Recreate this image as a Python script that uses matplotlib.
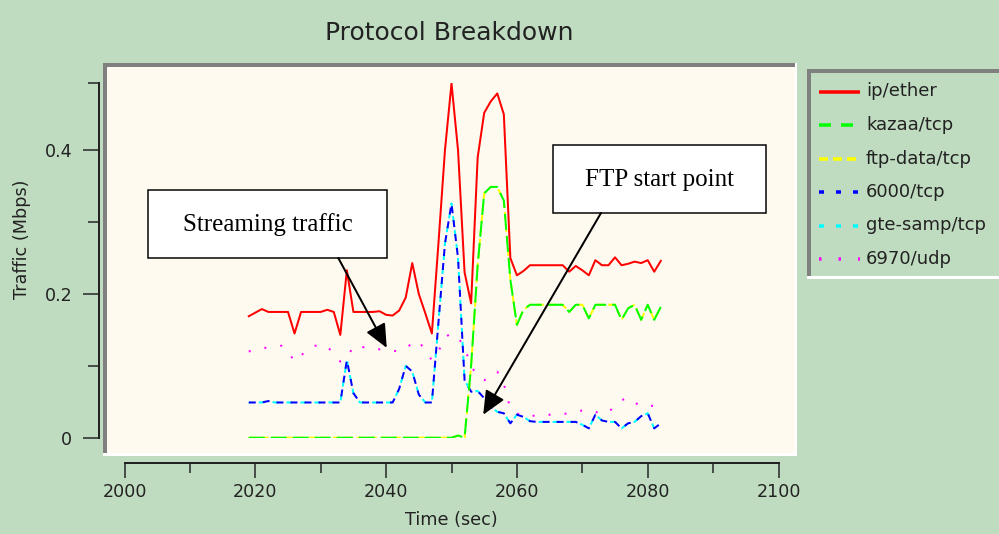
import matplotlib
matplotlib.use("Agg")
import matplotlib.pyplot as plt
from matplotlib.patches import Rectangle
from matplotlib.lines import Line2D

plt.rcParams['lines.scale_dashes'] = False
plt.rcParams['font.family'] = ['DejaVu Sans']

# ---- data (time in sec, traffic in Mbps) ----
time_sec = [2019, 2020, 2021, 2022, 2023, 2024, 2025, 2026,
            2027, 2028, 2029, 2030, 2031, 2032, 2033, 2034,
            2035, 2036, 2037, 2038, 2039, 2040, 2041, 2042,
            2043, 2044, 2045, 2046, 2047, 2048, 2049, 2050,
            2051, 2052, 2053, 2054, 2055, 2056, 2057, 2058,
            2059, 2060, 2061, 2062, 2063, 2064, 2065, 2066,
            2067, 2068, 2069, 2070, 2071, 2072, 2073, 2074,
            2075, 2076, 2077, 2078, 2079, 2080, 2081, 2082]

ip_ether = [0.169, 0.174, 0.179, 0.175, 0.175, 0.175, 0.175, 0.145,
            0.175, 0.175, 0.175, 0.175, 0.178, 0.175, 0.143, 0.233,
            0.175, 0.175, 0.175, 0.175, 0.176, 0.171, 0.170, 0.177,
            0.195, 0.243, 0.200, 0.173, 0.145, 0.270, 0.400, 0.493,
            0.400, 0.230, 0.187, 0.390, 0.452, 0.468, 0.479, 0.450,
            0.250, 0.226, 0.232, 0.240, 0.240, 0.240, 0.240, 0.240,
            0.240, 0.231, 0.239, 0.233, 0.226, 0.247, 0.240, 0.240,
            0.251, 0.240, 0.242, 0.245, 0.243, 0.247, 0.231, 0.246]

kazaa_tcp = [0.0, 0.0, 0.0, 0.0, 0.0, 0.0, 0.0, 0.0,
             0.0, 0.0, 0.0, 0.0, 0.0, 0.0, 0.0, 0.0,
             0.0, 0.0, 0.0, 0.0, 0.0, 0.0, 0.0, 0.0,
             0.0, 0.0, 0.0, 0.0, 0.0, 0.0, 0.0, 0.0,
             0.003, 0.0, 0.100, 0.240, 0.340, 0.349, 0.349, 0.330,
             0.220, 0.157, 0.178, 0.185, 0.185, 0.185, 0.185, 0.185,
             0.185, 0.175, 0.185, 0.185, 0.166, 0.185, 0.185, 0.185,
             0.185, 0.164, 0.180, 0.185, 0.164, 0.185, 0.164, 0.182]

# ftp-data sits right under kazaa (only visible in the gaps of the dashes)
ftp_data_tcp = list(kazaa_tcp)

tcp_6000 = [0.049, 0.049, 0.049, 0.051, 0.049, 0.049, 0.049, 0.049,
            0.049, 0.049, 0.049, 0.049, 0.049, 0.049, 0.049, 0.108,
            0.062, 0.049, 0.049, 0.049, 0.049, 0.049, 0.049, 0.068,
            0.100, 0.092, 0.060, 0.049, 0.049, 0.160, 0.270, 0.326,
            0.250, 0.080, 0.064, 0.065, 0.055, 0.043, 0.036, 0.034,
            0.020, 0.032, 0.029, 0.023, 0.022, 0.022, 0.022, 0.022,
            0.022, 0.022, 0.022, 0.018, 0.013, 0.032, 0.024, 0.022,
            0.022, 0.013, 0.020, 0.022, 0.030, 0.034, 0.013, 0.020]

# gte-samp overlaps 6000/tcp
gte_samp_tcp = list(tcp_6000)

udp_6970 = [0.120, 0.122, 0.124, 0.126, 0.128, 0.128, 0.120, 0.106,
            0.114, 0.124, 0.128, 0.128, 0.128, 0.115, 0.106, 0.110,
            0.128, 0.127, 0.125, 0.124, 0.123, 0.122, 0.121, 0.120,
            0.125, 0.131, 0.135, 0.120, 0.108, 0.120, 0.140, 0.145,
            0.140, 0.125, 0.100, 0.085, 0.080, 0.085, 0.092, 0.075,
            0.040, 0.034, 0.030, 0.030, 0.031, 0.032, 0.032, 0.033,
            0.033, 0.034, 0.036, 0.038, 0.039, 0.036, 0.033, 0.035,
            0.045, 0.052, 0.056, 0.049, 0.044, 0.045, 0.044, 0.043]

legend_labels = ['ip/ether', 'kazaa/tcp', 'ftp-data/tcp',
                 '6000/tcp', 'gte-samp/tcp', '6970/udp']
x_major = [2000, 2020, 2040, 2060, 2080, 2100]
x_minor = [2010, 2030, 2050, 2070, 2090]
y_major = [0, 0.2, 0.4]
y_major_labels = ['0', '0.2', '0.4']
y_max = 0.494

BG = '#c0dcc0'
CREAM = '#fffaf0'
GRAY = '#808080'
INK = '#222222'
W, H = 999, 534
PX = 0.72  # points per pixel at dpi 100

fig = plt.figure(figsize=(W / 100, H / 100), dpi=100, facecolor=BG)

# background layer, image pixel coords (y down)
bg = fig.add_axes([0, 0, 1, 1], zorder=0)
bg.set_xlim(0, W)
bg.set_ylim(H, 0)
bg.axis('off')


def sunken_box(a, x0, y0, x1, y1, face):
    a.add_patch(Rectangle((x0, y0), x1 - x0, y1 - y0, facecolor='white', edgecolor='none'))
    a.add_patch(Rectangle((x0, y0), x1 - x0 - 2, y1 - y0 - 3, facecolor=GRAY, edgecolor='none'))
    a.add_patch(Rectangle((x0 + 4, y0 + 4), x1 - x0 - 6, y1 - y0 - 7, facecolor=face, edgecolor='none'))


sunken_box(bg, 103, 63, 797, 456, CREAM)
sunken_box(bg, 807, 69, 1005, 279, BG)

# legend (drawn by hand to get the old java look)
leg_styles = [
    dict(color='#ff0000', ls='-'),
    dict(color='#00ff00', ls=(0, (12 * PX, 10 * PX))),
    dict(color='#ffff00', ls=(0, (9 * PX, 5 * PX))),
    dict(color='#0000ff', ls=(0, (5 * PX, 12 * PX))),
    dict(color='#00ffff', ls=(0, (5 * PX, 12 * PX))),
    dict(color='#ff00ff', ls=(0, (2.5 * PX, 17 * PX))),
]
leg_y = [91.5, 125, 158.5, 192, 225.5, 259]
for lab, st, yy in zip(legend_labels, leg_styles, leg_y):
    bg.add_line(Line2D([819, 860], [yy, yy], color=st['color'], linestyle=st['ls'],
                       linewidth=3.5 * PX, solid_capstyle='butt', dash_capstyle='butt'))
    bg.text(866, yy, lab, fontsize=13, color=INK, va='center', ha='left')

# main axes
ax = fig.add_axes([124.5 / W, (H - 437.7) / H, (778.5 - 124.5) / W, (437.7 - 82.7) / H],
                  zorder=1)
ax.set_facecolor('none')
ax.set_xlim(2000, 2100)
ax.set_ylim(0, y_max)

lw = 2 * PX
ax.plot(time_sec, udp_6970, color='#ff00ff', lw=lw, linestyle=(0, (2 * PX, 14 * PX)))
ax.plot(time_sec, gte_samp_tcp, color='#00ffff', lw=lw, linestyle=(4 * PX, (6 * PX, 8 * PX)))
ax.plot(time_sec, tcp_6000, color='#0000ff', lw=lw, linestyle=(0, (7 * PX, 7 * PX)))
ax.plot(time_sec, ftp_data_tcp, color='#ffff00', lw=lw, linestyle=(0, (8 * PX, 4 * PX)))
ax.plot(time_sec, kazaa_tcp, color='#00ff00', lw=lw, linestyle=(0, (16 * PX, 6 * PX)))
ax.plot(time_sec, ip_ether, color='#ff0000', lw=lw)

for s in ['top', 'right']:
    ax.spines[s].set_visible(False)
ax.spines['left'].set_position(('outward', 26 * PX))
ax.spines['bottom'].set_position(('outward', 25 * PX))
for s in ['left', 'bottom']:
    ax.spines[s].set_linewidth(2 * PX)
    ax.spines[s].set_color(INK)

ax.set_xticks(x_major)
ax.set_xticks(x_minor, minor=True)
ax.set_yticks(y_major)
ax.set_yticklabels(y_major_labels)
ax.set_yticks([0.1, 0.3, y_max], minor=True)
ax.tick_params(which='major', direction='out', color=INK, width=1.5 * PX,
               labelsize=12.6, labelcolor=INK)
ax.tick_params(axis='y', which='major', length=16 * PX, pad=10 * PX)
ax.tick_params(axis='y', which='minor', length=11 * PX, width=1.5 * PX, color=INK)
ax.tick_params(axis='x', which='major', length=15 * PX, pad=5 * PX)
ax.tick_params(axis='x', which='minor', length=10 * PX, width=1.5 * PX, color=INK)

fig.text(449.5 / W, 1 - 33 / H, 'Protocol Breakdown', ha='center', va='center',
         fontsize=18, color=INK)
fig.text(22 / W, 1 - 239 / H, 'Traffic (Mbps)', rotation=90, ha='center', va='center',
         fontsize=12.7, color=INK)
fig.text(451 / W, 1 - 520 / H, 'Time (sec)', ha='center', va='center',
         fontsize=12.7, color=INK)

# annotation layer
fg = fig.add_axes([0, 0, 1, 1], zorder=2)
fg.set_xlim(0, W)
fg.set_ylim(H, 0)
fg.axis('off')

notes = [
    ('Streaming traffic', (148, 190, 387, 258), (338.3, 258), (2040.1, 0.125)),
    ('FTP start point', (553, 145, 766, 213), (601, 213), (2054.85, 0.032)),
]
for txt, (x0, y0, x1, y1), start, tip in notes:
    fg.add_patch(Rectangle((x0, y0), x1 - x0, y1 - y0, facecolor='white',
                           edgecolor='black', linewidth=1.5 * PX))
    fg.text((x0 + x1) / 2, (y0 + y1) / 2 + 1, txt, ha='center', va='center',
            fontsize=18, family='Liberation Serif', color='black')
    fg.annotate('', xy=tip, xycoords=ax.transData, xytext=start, textcoords='data',
                arrowprops=dict(arrowstyle='-|>,head_length=1.0,head_width=0.45',
                                mutation_scale=14.4, color='black', lw=2 * PX,
                                shrinkA=0, shrinkB=0))

fig.savefig('out.png', dpi=100, facecolor=BG)
